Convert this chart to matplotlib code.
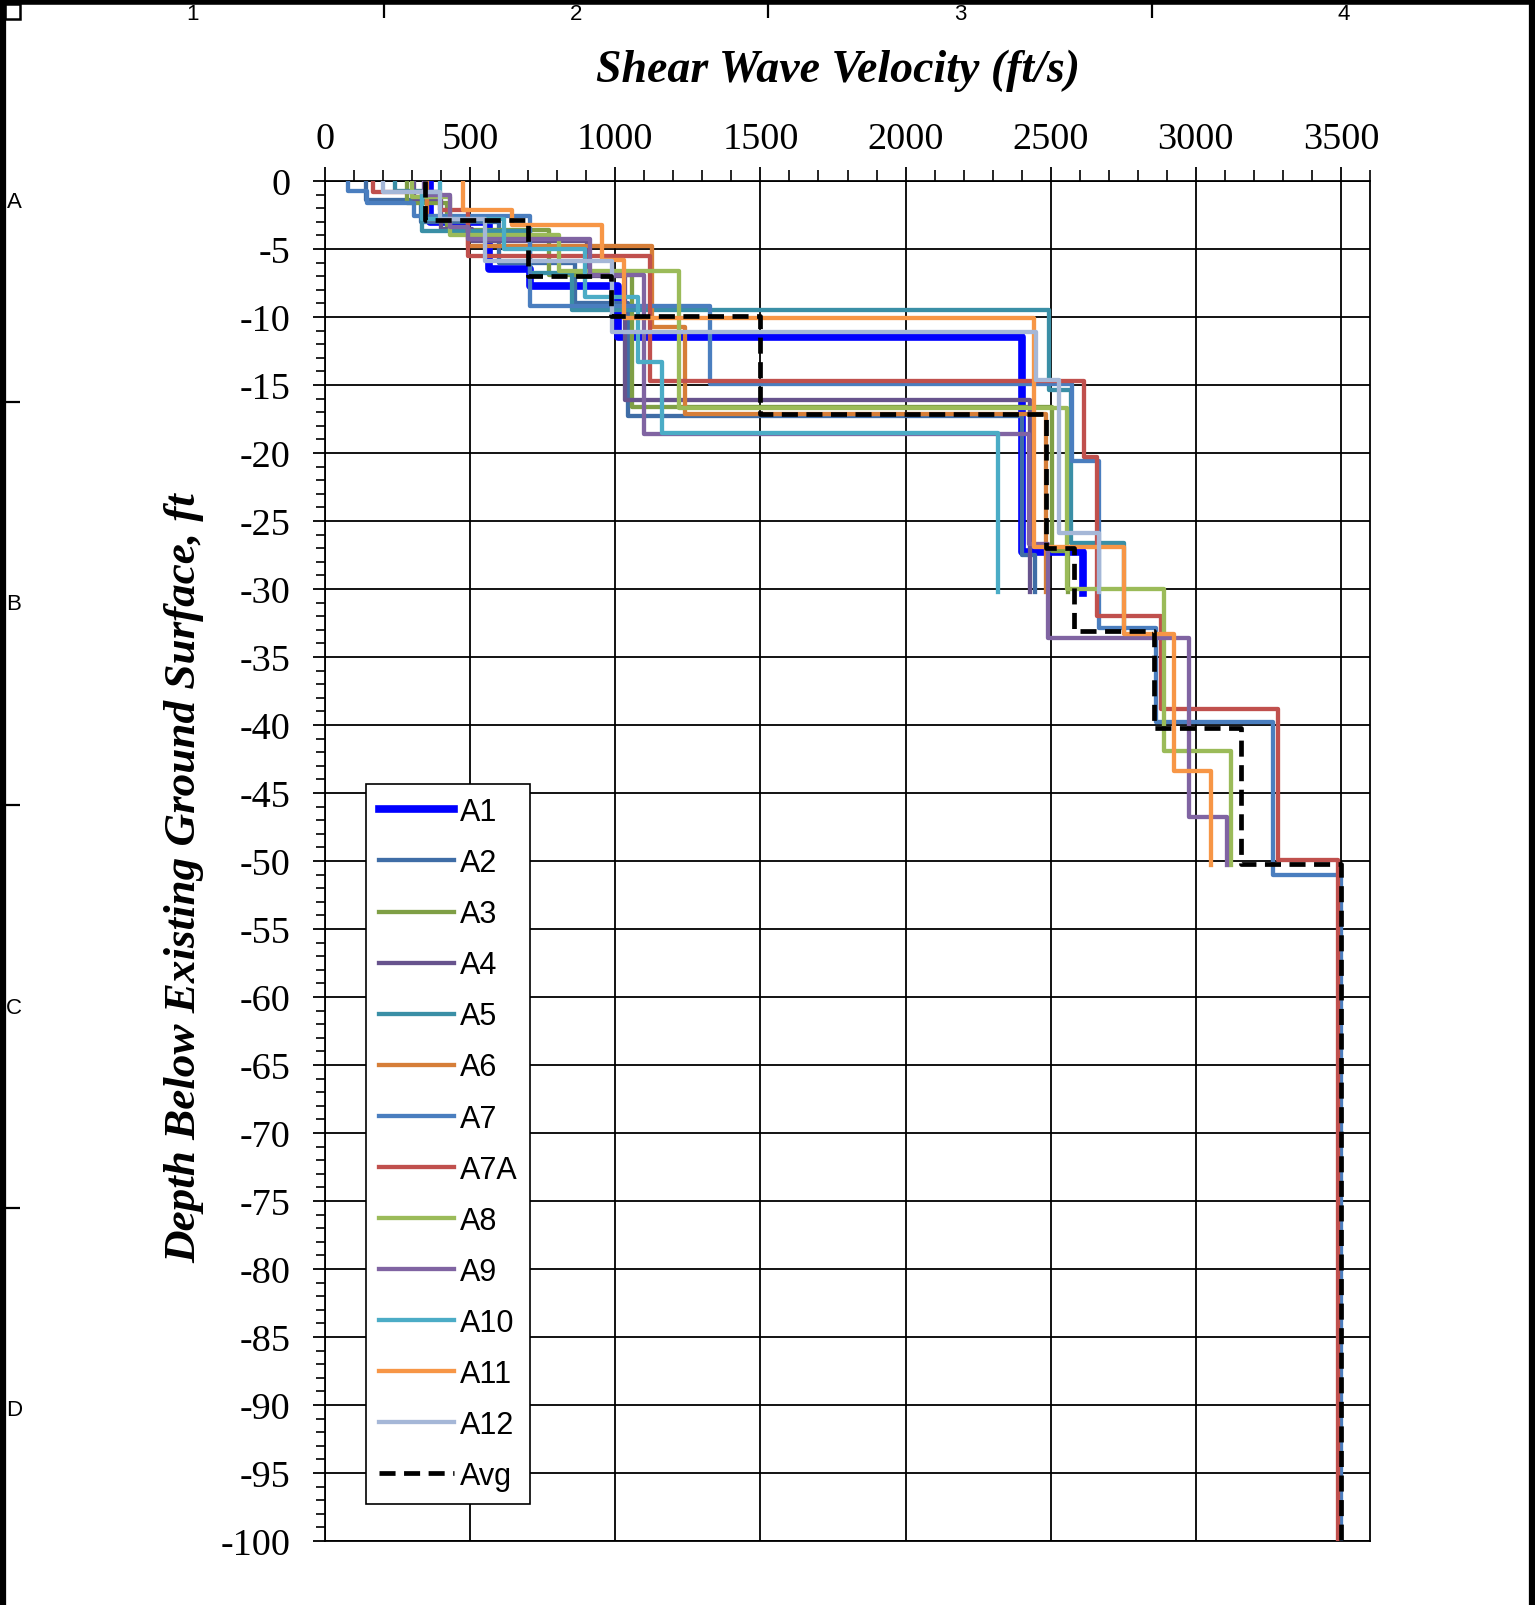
import matplotlib
matplotlib.use('Agg')
import matplotlib.pyplot as plt
from matplotlib.lines import Line2D
from matplotlib.patches import Rectangle
from matplotlib.ticker import MultipleLocator, FixedLocator, FuncFormatter

plt.rcParams['axes.unicode_minus'] = False

# ---------------- data (depth boundaries in ft, shear wave velocity in ft/s) -------------
A1_depth = [0, -3.0, -6.5, -7.7, -11.5, -27.3, -30.3]
A1_vs = [360, 565, 705, 1010, 2400, 2610]

A2_depth = [0, -1.4, -3.0, -6.0, -9.0, -17.3, -27.5, -30.2]
A2_vs = [140, 330, 600, 860, 1045, 2400, 2445]

A3_depth = [0, -1.6, -3.6, -6.9, -16.6, -27.2, -30.2]
A3_vs = [282, 420, 770, 1058, 2505, 2560]

A4_depth = [0, -1.3, -3.5, -4.4, -7.0, -16.1, -30.2]
A4_vs = [305, 400, 505, 902, 1035, 2428]

A5_depth = [0, -0.7, -3.7, -6.8, -9.5, -15.4, -26.6, -33.0]
A5_vs = [241, 333, 705, 851, 2495, 2569, 2752]

A6_depth = [0, -2.8, -4.8, -10.7, -17.1, -30.2]
A6_vs = [350, 494, 1126, 1241, 2483]

A7_depth = [0, -0.7, -1.6, -2.6, -9.2, -14.9, -20.6, -32.9, -39.8, -51.0, -100]
A7_vs = [80, 144, 305, 705, 1325, 2575, 2667, 2862, 3265, 3500]

A7A_depth = [0, -0.8, -2.1, -5.5, -14.7, -20.3, -32.0, -38.8, -49.9, -100]
A7A_vs = [167, 397, 494, 1118, 2615, 2660, 2879, 3282, 3489]

A8_depth = [0, -1.2, -4.0, -6.6, -16.7, -30.0, -41.9, -50.3]
A8_vs = [300, 430, 805, 1218, 2557, 2889, 3121]

A9_depth = [0, -1.0, -3.4, -4.3, -6.9, -18.6, -26.7, -33.6, -46.8, -50.3]
A9_vs = [340, 430, 494, 914, 1098, 2425, 2489, 2977, 3109]

A10_depth = [0, -0.8, -2.8, -5.0, -8.5, -13.3, -18.5, -30.2]
A10_vs = [395, 335, 615, 897, 1078, 1161, 2318]

A11_depth = [0, -2.1, -3.2, -5.8, -10.1, -26.9, -33.3, -43.4, -50.3]
A11_vs = [477, 644, 954, 1029, 2443, 2753, 2925, 3052]

A12_depth = [0, -0.8, -2.8, -5.9, -11.1, -14.6, -25.9, -30.2]
A12_vs = [201, 397, 552, 989, 2448, 2529, 2667]

Avg_depth = [0, -2.9, -7.0, -9.9, -17.1, -27.0, -33.1, -40.2, -50.2, -100]
Avg_vs = [345, 700, 985, 1500, 2485, 2580, 2855, 3155, 3500]

series_names = ['A1', 'A2', 'A3', 'A4', 'A5', 'A6', 'A7', 'A7A', 'A8', 'A9', 'A10', 'A11', 'A12', 'Avg']
series_depths = [A1_depth, A2_depth, A3_depth, A4_depth, A5_depth, A6_depth, A7_depth,
                 A7A_depth, A8_depth, A9_depth, A10_depth, A11_depth, A12_depth, Avg_depth]
series_vs = [A1_vs, A2_vs, A3_vs, A4_vs, A5_vs, A6_vs, A7_vs,
             A7A_vs, A8_vs, A9_vs, A10_vs, A11_vs, A12_vs, Avg_vs]
series_colors = ['#0000FF', '#3F6DA6', '#7F9F45', '#67538D', '#3A8FA6', '#D67E38', '#4A7EBF',
                 '#C0504D', '#9BBB59', '#8064A2', '#4BACC6', '#F79646', '#A5B7D7', '#000000']

x_ticks = [0, 500, 1000, 1500, 2000, 2500, 3000, 3500]
y_ticks = list(range(0, -101, -5))

# ---------------- figure ----------------
W, H = 1535, 1606
DPI = 100
fig = plt.figure(figsize=(W / DPI, H / DPI), dpi=DPI)
fig.patch.set_facecolor('white')

L, R, T, B = 325, 1370, 182, 1542
ax = fig.add_axes([L / W, 1 - B / H, (R - L) / W, (B - T) / H])

serif = ['Liberation Serif', 'DejaVu Serif']
sans = ['Liberation Sans', 'DejaVu Sans']

def step_path(depths, vs):
    xs, ys = [], []
    for i, v in enumerate(vs):
        xs += [v, v]
        ys += [depths[i], depths[i + 1]]
    return xs, ys

handles = []
for name, d, v, c in zip(series_names, series_depths, series_vs, series_colors):
    xs, ys = step_path(d, v)
    if name == 'Avg':
        ln, = ax.plot(xs, ys, color=c, lw=3.4, ls=(0, (3.4, 1.8)), label=name, zorder=5,
                      solid_joinstyle='miter')
    elif name == 'A1':
        ln, = ax.plot(xs, ys, color=c, lw=5.5, label=name, zorder=3, solid_joinstyle='round')
    else:
        ln, = ax.plot(xs, ys, color=c, lw=3.1, label=name, zorder=3, solid_joinstyle='round')
    handles.append(ln)

ax.set_xlim(0, 3600)
ax.set_ylim(-100, 0)

ax.xaxis.tick_top()
ax.xaxis.set_major_locator(FixedLocator(x_ticks))
ax.xaxis.set_minor_locator(MultipleLocator(100))
ax.yaxis.set_major_locator(FixedLocator(y_ticks))
ax.yaxis.set_minor_locator(MultipleLocator(1))
ax.xaxis.set_major_formatter(FuncFormatter(lambda v, p: '%d' % v))
ax.yaxis.set_major_formatter(FuncFormatter(lambda v, p: '%d' % round(v)))

ax.tick_params(axis='x', which='major', direction='out', length=10, width=1.3,
               pad=8, labelsize=27.5, top=True, bottom=False)
ax.tick_params(axis='x', which='minor', direction='out', length=8, width=1.2,
               top=True, bottom=False)
ax.tick_params(axis='y', which='major', direction='out', length=9, width=1.3,
               pad=16, labelsize=27.5, left=True, right=False)
ax.tick_params(axis='y', which='minor', direction='out', length=6.5, width=1.2,
               left=True, right=False)
for lab in ax.get_xticklabels() + ax.get_yticklabels():
    lab.set_family(serif)

ax.grid(True, which='major', color='black', lw=1.3)
ax.set_axisbelow(True)
for s in ax.spines.values():
    s.set_color('black')
    s.set_linewidth(1.3)

# axis titles
fig.text(838 / W, 1 - 71 / H, 'Shear Wave Velocity (ft/s)', ha='center', va='center',
         fontsize=33, fontweight='bold', fontstyle='italic', family=serif)
fig.text(184 / W, 1 - 878 / H, 'Depth Below Existing Ground Surface, ft', ha='center',
         va='center', rotation=90, fontsize=32.5, fontweight='bold', fontstyle='italic',
         family=serif)

# legend
leg = ax.legend(handles=handles, loc='lower left',
                bbox_to_anchor=((366 - L) / (R - L), (B - 1505) / (B - T)),
                borderaxespad=0, prop={'family': sans, 'size': 22},
                handlelength=2.45, handletextpad=0.2, labelspacing=0.69,
                borderpad=0.42, fancybox=False, framealpha=1, edgecolor='black')
leg.get_frame().set_linewidth(1.2)
leg.set_zorder(10)

# ---------------- sheet frame ----------------
def fx(x):
    return x / W

def fy(y):
    return 1 - y / H

def fline(x0, y0, x1, y1, lw, color='black'):
    fig.add_artist(Line2D([fx(x0), fx(x1)], [fy(y0), fy(y1)], transform=fig.transFigure,
                          color=color, lw=lw, solid_capstyle='butt'))

fline(3, 0, 3, H, 4.5)
fline(0, 3, W, 3, 4.0)
fline(1532, 0, 1532, H, 4.5)
fig.add_artist(Rectangle((fx(5), fy(20)), fx(20) - fx(5), fy(5) - fy(20),
                         transform=fig.transFigure, fill=False, ec='black', lw=1.8))

for xs_ in [384, 768, 1152]:
    fline(xs_, 5, xs_, 19, 1.6)
for lab_, xc in zip(['1', '2', '3', '4'], [192, 576, 960, 1344]):
    fig.text(fx(xc), fy(15), lab_, ha='center', va='center', fontsize=16,
             family=['Liberation Sans Narrow', 'Liberation Sans', 'DejaVu Sans'])
for ys_ in [403, 806, 1209]:
    fline(5, ys_, 20, ys_, 1.6)
for lab_, yc in zip(['A', 'B', 'C', 'D'], [203, 605, 1009, 1411]):
    fig.text(fx(14), fy(yc), lab_, ha='center', va='center', fontsize=16, family=sans)

fig.savefig('out.png', dpi=DPI, facecolor='white')
